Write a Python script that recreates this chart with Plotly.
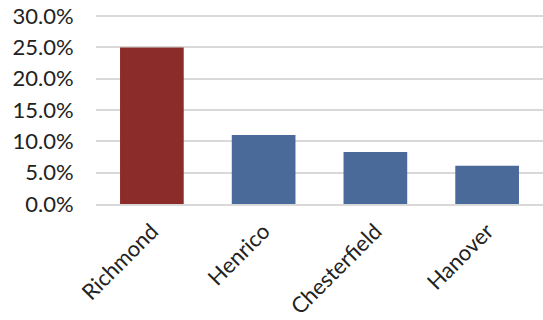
import plotly.graph_objects as go

categories = ["Richmond", "Henrico", "Chesterfield", "Hanover"]
values = [0.250, 0.110, 0.083, 0.061]
colors = ["#8B2C2B", "#4A6A9A", "#4A6A9A", "#4A6A9A"]
tick_vals = [0, 0.05, 0.10, 0.15, 0.20, 0.25, 0.30]

fig = go.Figure(go.Bar(
    x=categories, y=values,
    marker=dict(color=colors, line=dict(width=0)),
))

fig.update_layout(
    width=543, height=320,
    margin=dict(l=96, r=0, t=15, b=116, autoexpand=False),
    plot_bgcolor="white", paper_bgcolor="white",
    bargap=0.43,
    showlegend=False,
    font=dict(family="Lato, Liberation Sans, sans-serif", size=22, color="#222222"),
)
fig.update_yaxes(
    range=[0, 0.3017], tickvals=tick_vals, tickformat=".1%",
    showgrid=True, gridcolor="#D9D9D9", gridwidth=1.5,
    zeroline=False, showline=False, automargin=False,
    ticks="outside", ticklen=17, tickcolor="rgba(0,0,0,0)",
)
fig.update_xaxes(
    tickangle=-45, showline=True, linecolor="#D9D9D9", linewidth=1.5,
    automargin=False,
    ticks="outside", ticklen=4, tickcolor="rgba(0,0,0,0)",
)

fig.write_html("out.html", config={"displayModeBar": False},
               post_script="document.body.style.margin='0';")
